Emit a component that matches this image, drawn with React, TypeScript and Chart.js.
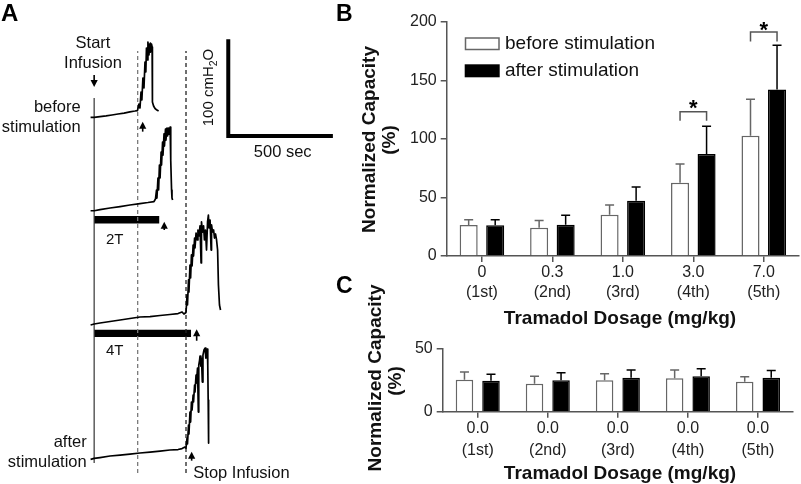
import React, { useEffect, useRef } from 'react';
import { Chart, registerables } from 'chart.js';
Chart.register(...registerables);

const FONT = "'Liberation Sans', Arial, Helvetica, sans-serif";

// ---------------- Panel B / C data ----------------
const seriesNames = ['before stimulation', 'after stimulation'];
const categoriesB = [['0', '(1st)'], ['0.3', '(2nd)'], ['1.0', '(3rd)'], ['3.0', '(4th)'], ['7.0', '(5th)']];
const categoriesC = [['0.0', '(1st)'], ['0.0', '(2nd)'], ['0.0', '(3rd)'], ['0.0', '(4th)'], ['0.0', '(5th)']];
const beforeB = [26.5, 24.2, 35.3, 62.6, 102.7];
const beforeErrB = [4.5, 6.2, 8.2, 15.9, 31];
const afterB = [26.2, 26.7, 47.2, 87, 142.2];
const afterErrB = [4.8, 8, 11.7, 23.7, 37.8];
const beforeC = [25.4, 22.2, 25.1, 26.7, 23.8];
const beforeErrC = [6.2, 6.1, 5.1, 6.5, 4];
const afterC = [24.6, 25.1, 27, 28.3, 27];
const afterErrC = [5.3, 5.9, 6.2, 5.9, 5.9];
const yMaxB = 200;
const yStepB = 50;
const yMaxC = 50;
const yStepC = 50;
// significance brackets: category index, bracket level, leg end, asterisk centre (all in %)
const significanceB = [
  { cat: 3, level: 123.2, leg: 115.5, star: 131 },
  { cat: 4, level: 191.2, leg: 183, star: 198 },
];
const yTitle = ['Normalized Capacity', '(%)'];
const xTitle = 'Tramadol Dosage (mg/kg)';

// ---------------- Panel A data (time in s, pressure in cmH2O) ----------------
const traceLabels = ['before stimulation', '2T', '4T', 'after stimulation'];
const traceOffsets = [378.8, 282.3, 165.3, 26.5];
const trace1: [number, number][] = [[-17, 0], [0, 0], [28, 0.8], [57, 1.5], [85, 2.4], [114, 3.4], [143, 4.4], [171, 5.7], [195, 6.5], [207, 7], [214, 13.7], [219, 9.6], [224, 26], [228, 17.9], [233, 40.6], [238, 30.3], [243, 57], [247, 46.8], [250, 71.6], [255, 59.2], [257, 77.8], [262, 64.4], [265, 75.7], [267, 67.4], [269, 76.8], [272, 69.5], [274, 75.7], [277, 72.6], [278, 38.5], [279, 15.8], [284, 11.7], [291, 9.1], [300, 7.5], [308, 6.5]];
const trace2: [number, number][] = [[-17, 0], [0, 0], [28, 1.2], [76, 2.8], [124, 4.3], [171, 5.9], [219, 7.4], [257, 8.5], [286, 9.5], [293, 12.1], [298, 21.4], [300, 13.1], [305, 33.8], [308, 21.4], [312, 47.2], [315, 33.8], [320, 60.6], [322, 47.2], [327, 71], [329, 57.5], [334, 79.5], [336, 66.8], [341, 84.4], [343, 73], [348, 85.4], [351, 77.2], [355, 85.4], [358, 79.2], [363, 86.5], [365, 82.3], [367, 52.4], [370, 21.4], [372, 13.1], [375, 11.1]];
const trace3: [number, number][] = [[-17, -1], [0, 0], [28, 1], [76, 2.6], [124, 4.1], [171, 5.7], [219, 7.2], [267, 7.7], [315, 8.8], [362, 9.8], [401, 10.8], [420, 12.4], [429, 10.3], [439, 11.9], [444, 30], [446, 19.6], [451, 45.5], [453, 33.1], [458, 60.9], [461, 47.5], [465, 71.3], [468, 59.9], [473, 81.6], [475, 70.2], [480, 88.8], [482, 78.5], [487, 94], [492, 86.8], [496, 97.1], [501, 90.9], [506, 101.3], [511, 63], [513, 105.4], [518, 95], [523, 101.3], [527, 86.8], [532, 97.1], [537, 76.4], [542, 105.4], [546, 112.6], [549, 99.2], [554, 107.4], [559, 76.4], [561, 102.3], [566, 95], [571, 97.1], [575, 88.8], [580, 93], [585, 86.8], [590, 76.4], [594, 40.3], [599, 19.6], [604, 14.5]];
const trace4: [number, number][] = [[-17, -1], [0, 0], [28, 0.8], [76, 2.4], [124, 3.4], [171, 4.4], [219, 5.5], [267, 6.5], [315, 7.5], [362, 8.6], [401, 9.1], [420, 10.1], [434, 11.7], [439, 10.6], [444, 21], [446, 14.8], [451, 34.4], [453, 25.1], [458, 47.8], [461, 37.5], [465, 58.2], [468, 49.9], [473, 65.4], [475, 58.2], [480, 75.7], [482, 68.5], [487, 86], [489, 77.8], [494, 93.3], [498, 47.8], [500, 96.4], [504, 101.5], [506, 105.7], [510, 95.3], [513, 103.6], [517, 78.8], [520, 106.7], [525, 111.9], [530, 113.9], [534, 103.6], [537, 111.9], [541, 112.9], [543, 96.4], [545, 60.2], [547, 15.8]];
const traces = [trace1, trace2, trace3, trace4];
const startLine = { t: 0, from: 21.7, to: 398.8 };
const dashedLines = [
  { t: 208, from: 11.4, to: 447.3, color: '#7a7a7a' },
  { t: 439, from: 11.4, to: 447.3, color: '#222' },
];
const stimBars = [
  { label: '2T', end: 311, level: 273 },
  { label: '4T', end: 463, level: 155.7 },
];
const scaleBar = { t0: 641, v0: 359.5, dt: 500, dv: 100 };
const arrowsA = [
  { t: 0, tip: 410.1, tail: 422.5 },
  { t: 232, tip: 374.3, tail: 364 },
  { t: 335, tip: 271, tail: 262.4 },
  { t: 490, tip: 159.8, tail: 148 },
  { t: 466, tip: 33.4, tail: 24.1 },
];

// ---------------- helpers ----------------
function txt(ctx: any, s: string, x: number, y: number, font: string, align = 'left', baseline = 'middle', color = '#111', rot = 0) {
  ctx.save();
  ctx.font = font;
  ctx.fillStyle = color;
  ctx.textAlign = align;
  ctx.textBaseline = baseline;
  ctx.translate(x, y);
  if (rot) ctx.rotate(rot);
  ctx.fillText(s, 0, 0);
  ctx.restore();
}

function drawArrow(ctx: any, x: number, tip: number, tail: number) {
  const dir = Math.sign(tail - tip);
  const hh = 7, hw = 3.6;
  ctx.save();
  ctx.fillStyle = '#000';
  ctx.strokeStyle = '#000';
  ctx.lineWidth = 1.6;
  ctx.beginPath();
  ctx.moveTo(x, tip + dir * (hh - 1));
  ctx.lineTo(x, tail);
  ctx.stroke();
  ctx.beginPath();
  ctx.moveTo(x, tip);
  ctx.lineTo(x - hw, tip + dir * hh);
  ctx.lineTo(x + hw, tip + dir * hh);
  ctx.closePath();
  ctx.fill();
  ctx.restore();
}

// ---------------- Panel A ----------------
const panelAPlugin = {
  id: 'panelA',
  afterDatasetsDraw(chart: any) {
    const { ctx } = chart;
    const xs = chart.scales.x, ys = chart.scales.y;
    arrowsA.forEach(a => drawArrow(ctx, xs.getPixelForValue(a.t), ys.getPixelForValue(a.tip), ys.getPixelForValue(a.tail)));
    const f = `16.5px ${FONT}`;
    txt(ctx, 'A', 1, 21, `bold 24px ${FONT}`, 'left', 'alphabetic', '#000');
    txt(ctx, 'Start', 93, 43, f, 'center');
    txt(ctx, 'Infusion', 93, 63, f, 'center');
    txt(ctx, 'before', 80.7, 107, f, 'right');
    txt(ctx, 'stimulation', 80.7, 127, f, 'right');
    txt(ctx, stimBars[0].label, 106, 240, `15px ${FONT}`, 'left');
    txt(ctx, stimBars[1].label, 106, 351, `15px ${FONT}`, 'left');
    txt(ctx, 'after', 86.7, 442, f, 'right');
    txt(ctx, 'stimulation', 86.7, 462, f, 'right');
    txt(ctx, 'Stop Infusion', 193.3, 473, f, 'left');
    txt(ctx, `${scaleBar.dt} sec`, 282.7, 152, f, 'center');
    // rotated 100 cmH2O with subscript
    ctx.save();
    ctx.translate(213, 87.5);
    ctx.rotate(-Math.PI / 2);
    ctx.fillStyle = '#111';
    ctx.textBaseline = 'alphabetic';
    const big = `15px ${FONT}`, small = `10.5px ${FONT}`;
    ctx.font = big;
    const a = `${scaleBar.dv} cmH`, o = 'O';
    const wa = ctx.measureText(a).width, wo = ctx.measureText(o).width;
    ctx.font = small;
    const w2 = ctx.measureText('2').width;
    let x0 = -(wa + w2 + wo) / 2;
    ctx.font = big;
    ctx.fillText(a, x0, 0);
    ctx.font = small;
    ctx.fillText('2', x0 + wa, 3.5);
    ctx.font = big;
    ctx.fillText(o, x0 + wa + w2, 0);
    ctx.restore();
  },
};

function configA(): any {
  const lineDs = (data: any[], extra: any = {}) => ({
    data, showLine: true, pointRadius: 0, borderColor: '#000', borderWidth: 1.3, tension: 0, fill: false, ...extra,
  });
  const datasets: any[] = [];
  traces.forEach((tr, i) => {
    datasets.push(lineDs(tr.map(([t, p]) => ({ x: t, y: p + traceOffsets[i] })), { label: traceLabels[i], borderWidth: 1.7, borderJoinStyle: 'round' }));
  });
  datasets.push(lineDs([{ x: startLine.t, y: startLine.from }, { x: startLine.t, y: startLine.to }], { borderColor: '#333', borderWidth: 1.2 }));
  dashedLines.forEach(d => datasets.push(lineDs([{ x: d.t, y: d.from }, { x: d.t, y: d.to }], { borderColor: d.color, borderWidth: 1.3, borderDash: [4, 3] })));
  stimBars.forEach(b => datasets.push(lineDs([{ x: 0, y: b.level }, { x: b.end, y: b.level }], { borderWidth: 7.3, borderCapStyle: 'butt' })));
  datasets.push(lineDs([
    { x: scaleBar.t0, y: scaleBar.v0 + scaleBar.dv },
    { x: scaleBar.t0, y: scaleBar.v0 },
    { x: scaleBar.t0 + scaleBar.dt, y: scaleBar.v0 },
  ], { borderWidth: 4, borderCapStyle: 'butt', borderJoinStyle: 'miter' }));
  return {
    type: 'scatter',
    data: { datasets },
    options: {
      responsive: false, animation: false, events: [],
      layout: { padding: { left: 0, top: 0, right: 461, bottom: 0 } },
      plugins: { legend: { display: false }, tooltip: { enabled: false } },
      scales: {
        x: { type: 'linear', min: -450, max: 1175, display: false },
        y: { type: 'linear', min: 0, max: 500, display: false },
      },
    },
    plugins: [panelAPlugin],
  };
}

// ---------------- Panels B / C ----------------
function barPlugin(o: any) {
  return {
    id: 'bars' + o.letter,
    afterDatasetsDraw(chart: any) {
      const { ctx } = chart;
      const ys = chart.scales.y;
      const errs = [o.beforeErr, o.afterErr];
      const vals = [o.before, o.after];
      const colors = ['#666', '#000'];
      ctx.save();
      ctx.lineWidth = 1.5;
      for (let d = 0; d < 2; d++) {
        const meta = chart.getDatasetMeta(d);
        meta.data.forEach((el: any, i: number) => {
          const top = ys.getPixelForValue(vals[d][i] + errs[d][i]);
          ctx.strokeStyle = colors[d];
          ctx.beginPath();
          ctx.moveTo(el.x, el.y);
          ctx.lineTo(el.x, top);
          ctx.moveTo(el.x - 4.5, top);
          ctx.lineTo(el.x + 4.5, top);
          ctx.stroke();
        });
      }
      // significance
      (o.sig || []).forEach((s: any) => {
        const x1 = chart.getDatasetMeta(0).data[s.cat].x;
        const x2 = chart.getDatasetMeta(1).data[s.cat].x;
        const yl = ys.getPixelForValue(s.level);
        const yg = ys.getPixelForValue(s.leg);
        ctx.strokeStyle = '#555';
        ctx.beginPath();
        ctx.moveTo(x1, yg);
        ctx.lineTo(x1, yl);
        ctx.lineTo(x2, yl);
        ctx.lineTo(x2, yg);
        ctx.stroke();
        txt(ctx, '*', (x1 + x2) / 2, ys.getPixelForValue(s.star) + 12.5, `bold 22px ${FONT}`, 'center', 'alphabetic', '#000');
      });
      ctx.restore();
      // legend
      if (o.legend) {
        ctx.save();
        ctx.fillStyle = '#fff';
        ctx.strokeStyle = '#666';
        ctx.lineWidth = 1.5;
        ctx.fillRect(465.5, 38, 33.5, 11.5);
        ctx.strokeRect(465.5, 38, 33.5, 11.5);
        ctx.fillStyle = '#000';
        ctx.fillRect(464.7, 64.3, 35, 13);
        ctx.restore();
        txt(ctx, seriesNames[0], 505, 44, `19px ${FONT}`, 'left', 'middle', '#111');
        txt(ctx, seriesNames[1], 505, 71, `19px ${FONT}`, 'left', 'middle', '#111');
      }
      // titles
      const tf = `bold 19px ${FONT}`;
      txt(ctx, yTitle[0], o.yt[0], o.yt[1], tf, 'center', 'alphabetic', '#111', -Math.PI / 2);
      txt(ctx, yTitle[1], o.yt2[0], o.yt2[1], tf, 'center', 'alphabetic', '#111', -Math.PI / 2);
      txt(ctx, xTitle, 620, o.xtBase, tf, 'center', 'alphabetic', '#111');
      txt(ctx, o.letter, 336, o.letterBase, `bold 23px ${FONT}`, 'left', 'alphabetic', '#000');
    },
  };
}

function barConfig(o: any): any {
  const axisColor = '#555';
  const tickFont = { family: FONT, size: 16, lineHeight: o.lineHeight };
  return {
    type: 'bar',
    data: {
      labels: o.labels,
      datasets: [
        { label: seriesNames[0], data: o.before, backgroundColor: '#fff', borderColor: '#666', borderWidth: 1.5 },
        { label: seriesNames[1], data: o.after, backgroundColor: '#000', borderColor: '#000', borderWidth: 1.5 },
      ],
    },
    options: {
      responsive: false, animation: false, events: [],
      layout: { padding: o.padding },
      datasets: { bar: { categoryPercentage: o.catPct, barPercentage: o.barPct } },
      plugins: { legend: { display: false }, tooltip: { enabled: false } },
      scales: {
        x: {
          offset: true,
          grid: { offset: false, drawOnChartArea: false, drawTicks: true, tickLength: 6, color: axisColor, lineWidth: 1.5 },
          border: { display: true, color: axisColor, width: 1.5 },
          ticks: { color: '#222', font: tickFont, padding: o.xPad, maxRotation: 0, autoSkip: false },
          afterFit: (s: any) => { s.height = o.xHeight; },
        },
        y: {
          min: 0, max: o.max,
          grid: { drawOnChartArea: false, drawTicks: true, tickLength: 6, color: axisColor, lineWidth: 1.5 },
          border: { display: true, color: axisColor, width: 1.5 },
          ticks: { stepSize: o.step, color: '#222', font: { family: FONT, size: 16 }, padding: 4 },
          afterFit: (s: any) => { s.width = o.yWidth; },
        },
      },
    },
    plugins: [barPlugin(o)],
  };
}

const optsB = {
  letter: 'B', letterBase: 21, labels: categoriesB, before: beforeB, after: afterB, beforeErr: beforeErrB, afterErr: afterErrB,
  max: yMaxB, step: yStepB, sig: significanceB, legend: true,
  padding: { left: 340, top: 21.7, right: 2, bottom: 154 }, yWidth: 106.7, xHeight: 74, xPad: 1, lineHeight: 1.25,
  catPct: 0.753, barPct: 0.68, yt: [374.5, 139.5], yt2: [395, 140], xtBase: 323.5,
};
const optsC = {
  letter: 'C', letterBase: 293, labels: categoriesC, before: beforeC, after: afterC, beforeErr: beforeErrC, afterErr: afterErrC,
  max: yMaxC, step: yStepC, sig: [], legend: false,
  padding: { left: 340, top: 349, right: 8, bottom: 0 }, yWidth: 102.7, xHeight: 72.3, xPad: 0, lineHeight: 1.35,
  catPct: 0.757, barPct: 0.66, yt: [380.5, 378], yt2: [401, 381], xtBase: 478.6,
};

export default function App() {
  const refA = useRef<HTMLCanvasElement>(null);
  const refB = useRef<HTMLCanvasElement>(null);
  const refC = useRef<HTMLCanvasElement>(null);
  useEffect(() => {
    const charts = [
      new Chart(refA.current as any, configA()),
      new Chart(refB.current as any, barConfig(optsB)),
      new Chart(refC.current as any, barConfig(optsC)),
    ];
    return () => charts.forEach(c => c.destroy());
  }, []);
  const cs: any = { position: 'absolute', left: 0, top: 0, width: 801, height: 484 };
  return (
    <div style={{ position: 'absolute', left: 0, top: 0, width: 801, height: 484, background: '#fff', overflow: 'hidden' }}>
      <canvas ref={refA} width={801} height={484} style={cs} />
      <canvas ref={refB} width={801} height={484} style={cs} />
      <canvas ref={refC} width={801} height={484} style={cs} />
    </div>
  );
}
